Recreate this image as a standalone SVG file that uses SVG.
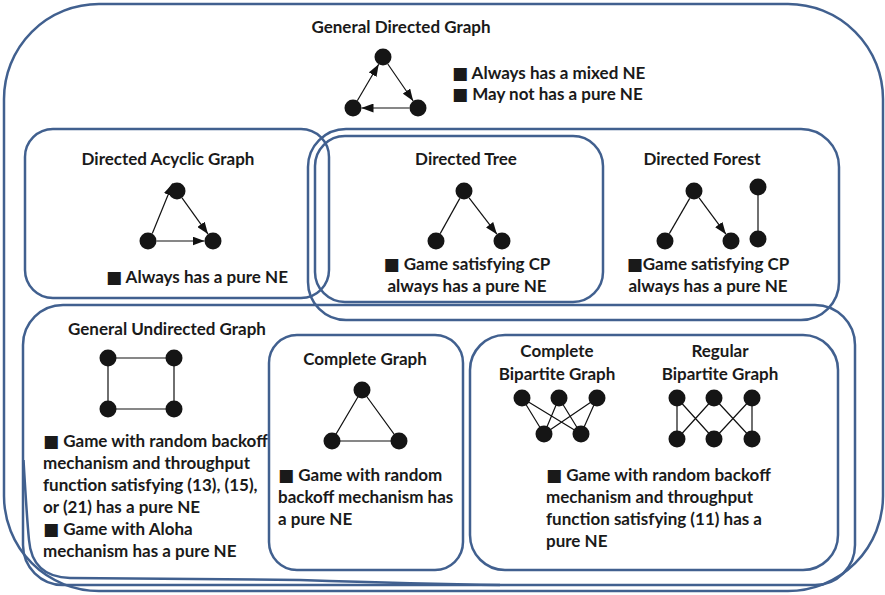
<svg xmlns="http://www.w3.org/2000/svg" width="885" height="595" viewBox="0 0 885 595">
  <defs>
    <style>
      .box { fill: none; stroke: #41608f; stroke-width: 2.5; }
      .edge { stroke: #111; stroke-width: 1.2; fill: none; }
      .arrow { stroke: #111; stroke-width: 1.2; fill: none; marker-end: url(#head); }
      .node { fill: #151515; }
      .title { font-family: Lato, "DejaVu Sans", sans-serif; font-weight: bold; font-size: 17px; fill: #1a1a1a; text-anchor: middle; }
      .note { font-family: Lato, "DejaVu Sans", sans-serif; font-weight: bold; font-size: 17px; fill: #1a1a1a; }
      .mid { text-anchor: middle; }
    </style>
    <marker id="head" markerWidth="12" markerHeight="9" refX="12" refY="4.5" orient="auto" markerUnits="userSpaceOnUse">
      <path d="M0,0 L12,4.5 L0,9 z" fill="#111"/>
    </marker>
  </defs>
  <rect width="885" height="595" fill="#fff"/>

  <!-- region outlines -->
  <g id="region-boxes">
    <rect id="box-general-directed" class="box" x="4" y="4" width="879" height="587" rx="95"/>
    <rect id="box-dag" class="box" x="25" y="129" width="304" height="169" rx="28"/>
    <rect id="box-directed-region" class="box" x="308" y="129" width="531" height="191" rx="38"/>
    <rect id="box-tree" class="box" x="315" y="136" width="288" height="166" rx="30"/>
    <rect id="box-undirected" class="box" x="23" y="305" width="832" height="280" rx="40"/>
    <!-- second, slightly offset stroke along the lower-left of the undirected area -->
    <path id="box-undirected-inner" class="box" d="M23.5,460 Q27,520 29,540 Q32,577 70,578 L300,580 Q420,584 500,585"/>
    <rect id="box-complete" class="box" x="269" y="335" width="194" height="235" rx="28"/>
    <rect id="box-bipartite" class="box" x="470" y="335" width="368" height="235" rx="35"/>
  </g>

  <!-- connectors -->
  <g id="connectors">
    <!-- general directed: cycle -->
    <line class="arrow" x1="357.3" y1="100.7" x2="378.7" y2="64.3"/>
    <line class="arrow" x1="387.8" y1="64" x2="413.2" y2="101"/>
    <line class="arrow" x1="409.5" y1="108" x2="361.5" y2="108"/>
    <!-- acyclic -->
    <line class="arrow" x1="152.3" y1="233.6" x2="172.7" y2="183.6"/>
    <line class="arrow" x1="182" y1="197.9" x2="208" y2="234.1"/>
    <line class="arrow" x1="156.5" y1="241" x2="204.5" y2="241"/>
    <!-- tree -->
    <line class="edge" x1="459.8" y1="198.4" x2="440.2" y2="233.6"/>
    <line class="arrow" x1="469.1" y1="197.8" x2="496.9" y2="234.2"/>
    <!-- forest -->
    <line class="edge" x1="689.7" y1="198.4" x2="669.3" y2="233.6"/>
    <line class="arrow" x1="699.1" y1="197.8" x2="725.9" y2="234.2"/>
    <line class="edge" x1="758" y1="187" x2="758" y2="239"/>
    <!-- undirected square -->
    <path class="edge" d="M108,358 H174 V409 H108 Z"/>
    <!-- complete triangle -->
    <path class="edge" d="M362,390 L332,441 L399,441 Z"/>
    <!-- complete bipartite -->
    <path class="edge" d="M522,398 L544,434 M522,398 L581,434 M559,398 L544,434 M559,398 L581,434 M597,398 L544,434 M597,398 L581,434"/>
    <!-- regular bipartite -->
    <path class="edge" d="M677,398 L677,439 M677,398 L714,439 M714,398 L677,439 M714,398 L752,439 M752,398 L714,439 M752,398 L752,439"/>
  </g>

  <g id="general-directed">
    <text class="title" x="401" y="33">General Directed Graph</text>
    <circle class="node" cx="383" cy="57" r="8.5"/>
    <circle class="node" cx="353" cy="108" r="8.5"/>
    <circle class="node" cx="418" cy="108" r="8.5"/>
    <text class="note" x="452" y="79">■ Always has a mixed NE</text>
    <text class="note" x="452" y="100">■ May not has a pure NE</text>
  </g>

  <g id="directed-acyclic">
    <text class="title" x="168" y="165">Directed Acyclic Graph</text>
    <circle class="node" cx="177" cy="191" r="8.5"/>
    <circle class="node" cx="148" cy="241" r="8.5"/>
    <circle class="node" cx="213" cy="241" r="8.5"/>
    <text class="note" x="106" y="283">■ Always has a pure NE</text>
  </g>

  <g id="directed-tree">
    <text class="title" x="466" y="165">Directed Tree</text>
    <circle class="node" cx="464" cy="191" r="8.5"/>
    <circle class="node" cx="436" cy="241" r="8.5"/>
    <circle class="node" cx="502" cy="241" r="8.5"/>
    <text class="note mid" x="467" y="270">■ Game satisfying CP</text>
    <text class="note mid" x="467" y="292">always has a pure NE</text>
  </g>

  <g id="directed-forest">
    <text class="title" x="702" y="165">Directed Forest</text>
    <circle class="node" cx="694" cy="191" r="8.5"/>
    <circle class="node" cx="665" cy="241" r="8.5"/>
    <circle class="node" cx="731" cy="241" r="8.5"/>
    <circle class="node" cx="758" cy="187" r="8.5"/>
    <circle class="node" cx="758" cy="239" r="8.5"/>
    <text class="note mid" x="708" y="270">■Game satisfying CP</text>
    <text class="note mid" x="708" y="292">always has a pure NE</text>
  </g>

  <g id="general-undirected">
    <text class="title" x="167" y="335">General Undirected Graph</text>
    <circle class="node" cx="108" cy="358" r="8.5"/>
    <circle class="node" cx="174" cy="358" r="8.5"/>
    <circle class="node" cx="108" cy="409" r="8.5"/>
    <circle class="node" cx="174" cy="409" r="8.5"/>
    <text class="note" x="43" y="447">■ Game with random backoff</text>
    <text class="note" x="43" y="469">mechanism and throughput</text>
    <text class="note" x="43" y="491">function satisfying (13), (15),</text>
    <text class="note" x="43" y="513">or (21) has a pure NE</text>
    <text class="note" x="43" y="535">■ Game with Aloha</text>
    <text class="note" x="43" y="557">mechanism has a pure NE</text>
  </g>

  <g id="complete-graph">
    <text class="title" x="365" y="365">Complete Graph</text>
    <circle class="node" cx="362" cy="390" r="8.5"/>
    <circle class="node" cx="332" cy="441" r="8.5"/>
    <circle class="node" cx="399" cy="441" r="8.5"/>
    <text class="note" x="278" y="481">■ Game with random</text>
    <text class="note" x="278" y="503">backoff mechanism has</text>
    <text class="note" x="278" y="525">a pure NE</text>
  </g>

  <g id="bipartite-graphs">
    <text class="title" x="557" y="357">Complete</text>
    <text class="title" x="557" y="380">Bipartite Graph</text>
    <text class="title" x="720" y="357">Regular</text>
    <text class="title" x="720" y="380">Bipartite Graph</text>
    <circle class="node" cx="522" cy="398" r="8.5"/>
    <circle class="node" cx="559" cy="398" r="8.5"/>
    <circle class="node" cx="597" cy="398" r="8.5"/>
    <circle class="node" cx="544" cy="434" r="8.5"/>
    <circle class="node" cx="581" cy="434" r="8.5"/>
    <circle class="node" cx="677" cy="398" r="8.5"/>
    <circle class="node" cx="714" cy="398" r="8.5"/>
    <circle class="node" cx="752" cy="398" r="8.5"/>
    <circle class="node" cx="677" cy="439" r="8.5"/>
    <circle class="node" cx="714" cy="439" r="8.5"/>
    <circle class="node" cx="752" cy="439" r="8.5"/>
    <text class="note" x="546" y="481">■ Game with random backoff</text>
    <text class="note" x="546" y="503">mechanism and throughput</text>
    <text class="note" x="546" y="525">function satisfying (11) has a</text>
    <text class="note" x="546" y="547">pure NE</text>
  </g>
</svg>
